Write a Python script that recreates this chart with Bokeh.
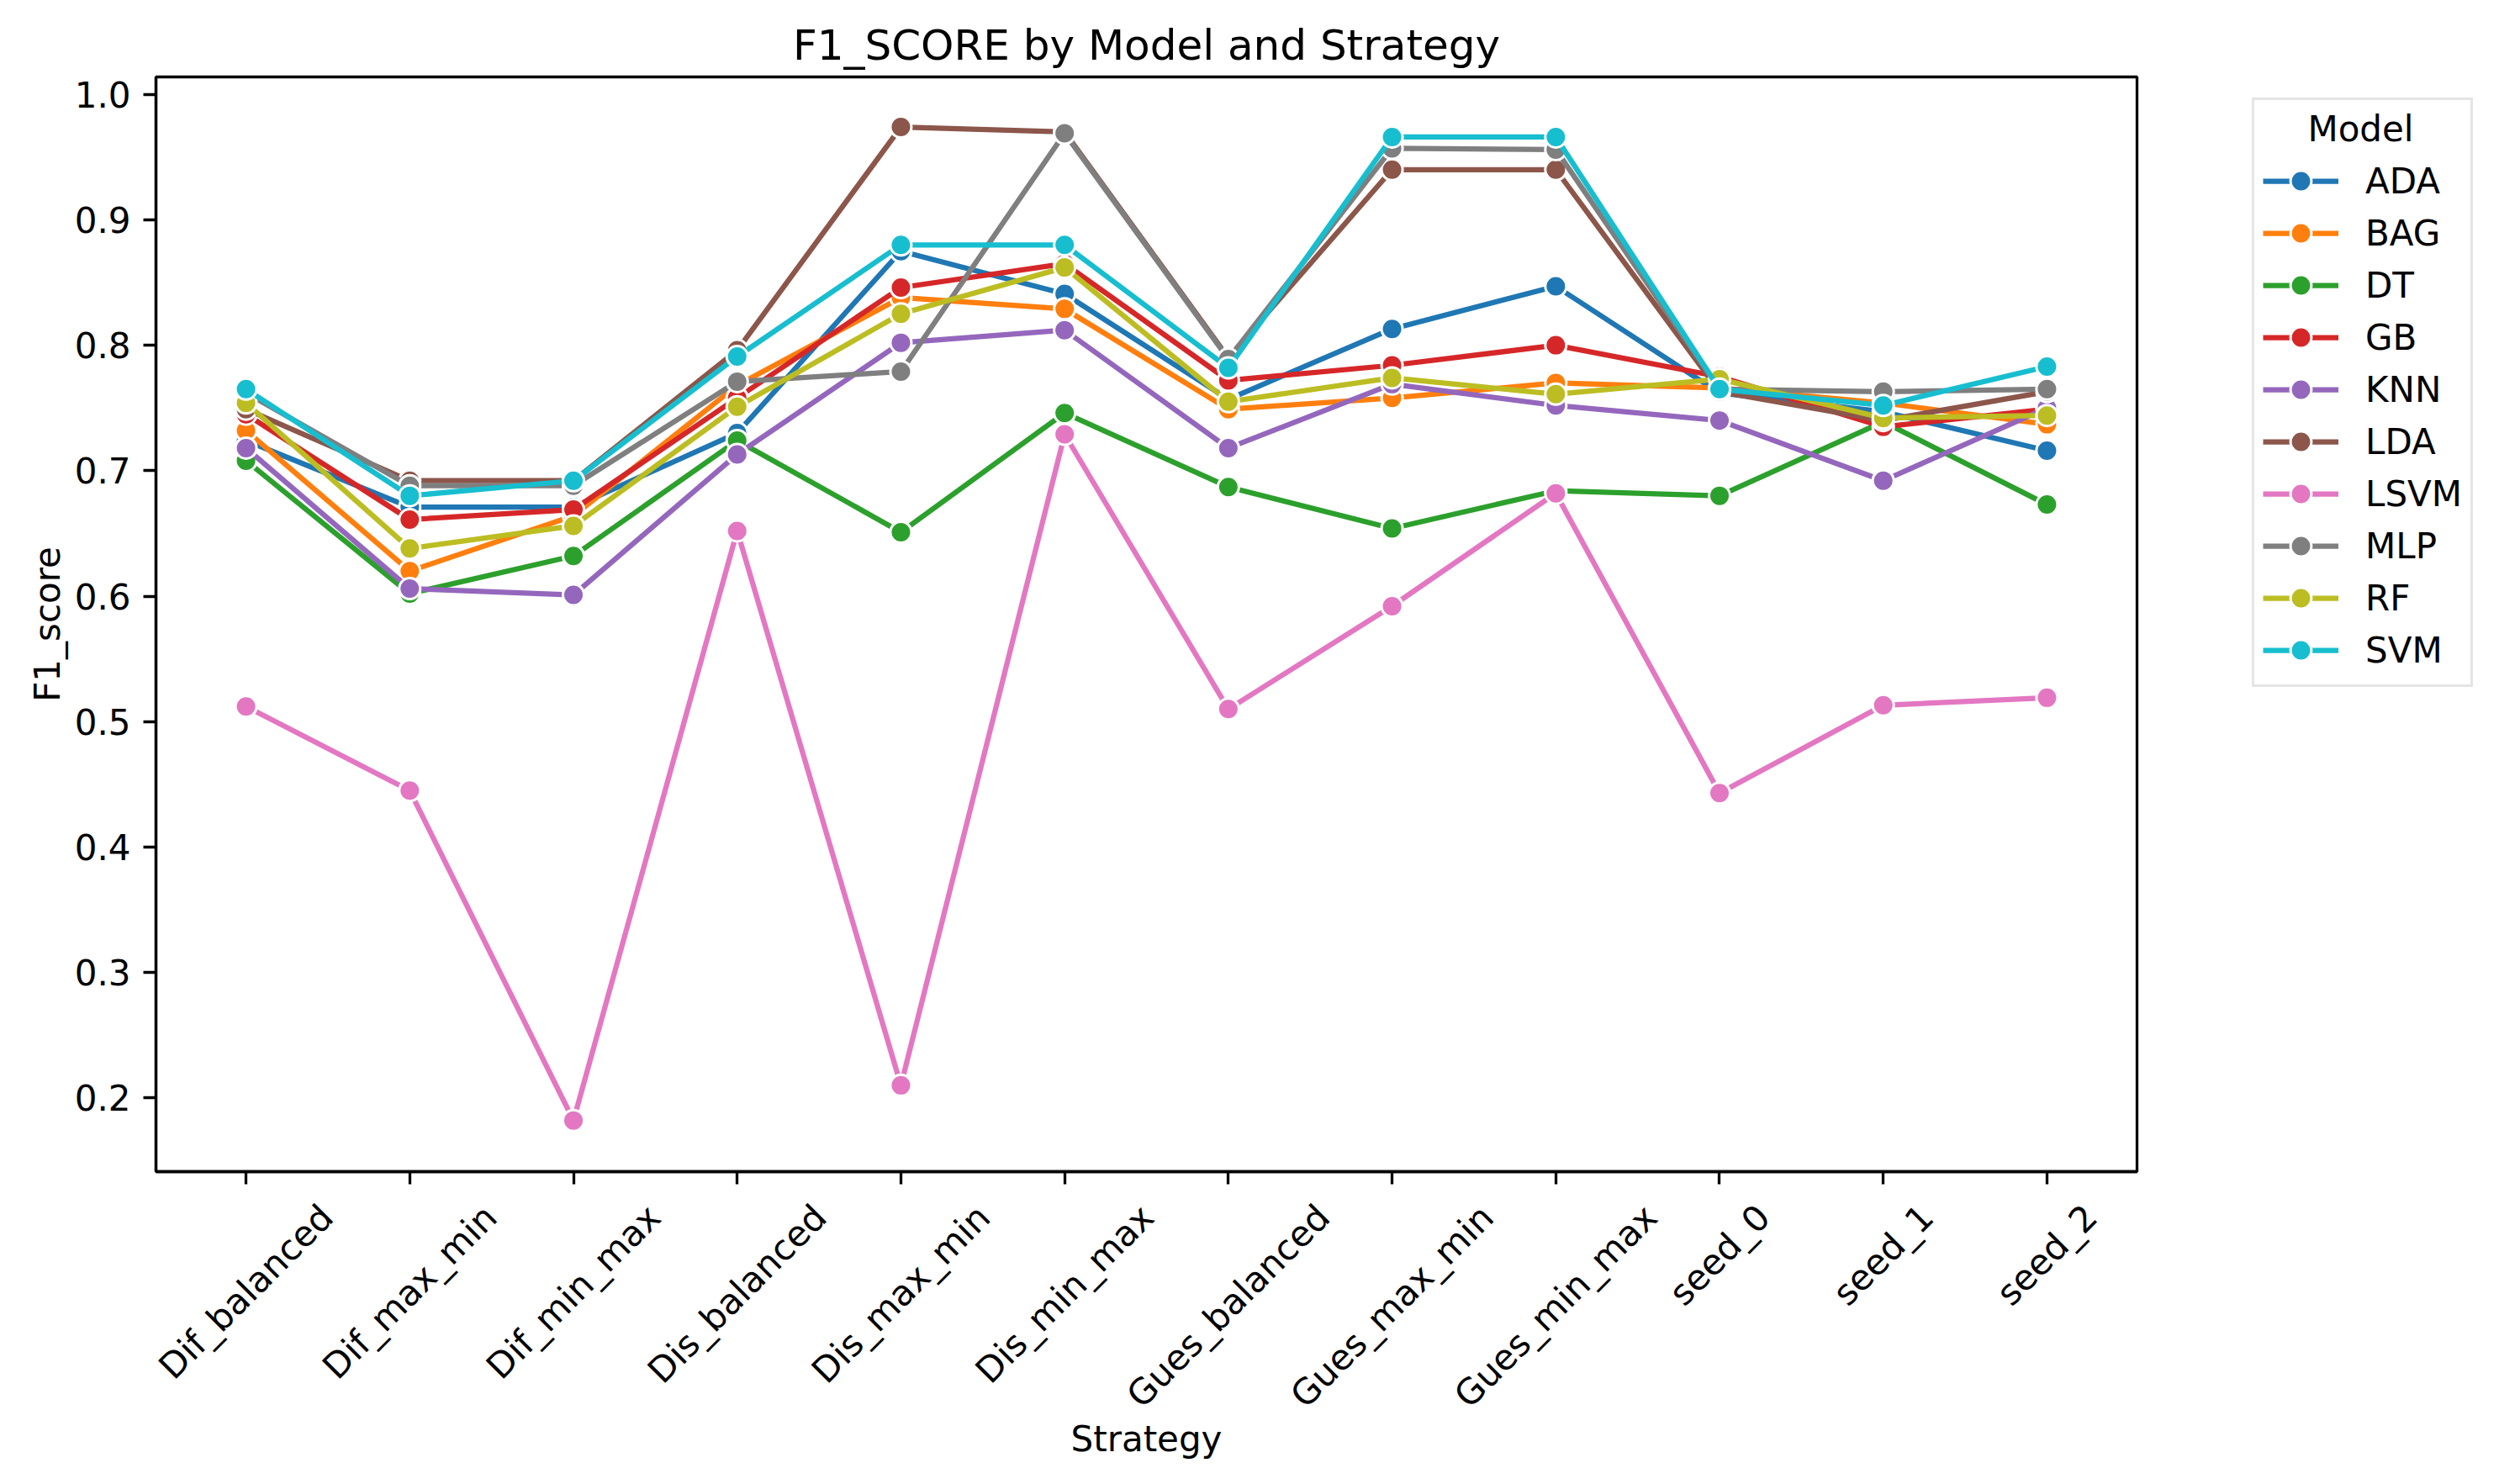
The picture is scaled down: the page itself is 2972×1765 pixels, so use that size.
import math
from bokeh.plotting import figure
from bokeh.layouts import column
from bokeh.models import (Range1d, FixedTicker, PrintfTickFormatter, Legend, LegendItem)
from bokeh.core.properties import value
from bokeh.embed import file_html
from bokeh.resources import INLINE

# ---------------- data ----------------
strategies = ["Dif_balanced", "Dif_max_min", "Dif_min_max", "Dis_balanced", "Dis_max_min",
              "Dis_min_max", "Gues_balanced", "Gues_max_min", "Gues_min_max",
              "seed_0", "seed_1", "seed_2"]
models = ["ADA", "BAG", "DT", "GB", "KNN", "LDA", "LSVM", "MLP", "RF", "SVM"]

ada  = [0.724, 0.671, 0.671, 0.730, 0.875, 0.841, 0.757, 0.813, 0.847, 0.762, 0.747, 0.716]
bag  = [0.732, 0.620, 0.664, 0.768, 0.838, 0.829, 0.749, 0.758, 0.770, 0.766, 0.754, 0.737]
dt   = [0.708, 0.602, 0.632, 0.724, 0.651, 0.746, 0.687, 0.654, 0.684, 0.680, 0.739, 0.673]
gb   = [0.745, 0.661, 0.669, 0.758, 0.846, 0.865, 0.772, 0.784, 0.800, 0.775, 0.735, 0.749]
knn  = [0.718, 0.606, 0.601, 0.713, 0.802, 0.812, 0.718, 0.769, 0.752, 0.740, 0.692, 0.750]
lda  = [0.749, 0.692, 0.692, 0.796, 0.974, 0.970, 0.790, 0.940, 0.940, 0.763, 0.740, 0.763]
lsvm = [0.512, 0.445, 0.182, 0.652, 0.210, 0.729, 0.510, 0.592, 0.682, 0.443, 0.513, 0.519]
mlp  = [0.762, 0.688, 0.688, 0.771, 0.779, 0.969, 0.789, 0.957, 0.956, 0.765, 0.763, 0.765]
rf   = [0.754, 0.638, 0.656, 0.751, 0.825, 0.862, 0.755, 0.774, 0.761, 0.773, 0.742, 0.744]
svm  = [0.765, 0.680, 0.692, 0.791, 0.880, 0.880, 0.782, 0.966, 0.966, 0.765, 0.752, 0.783]

series = [ada, bag, dt, gb, knn, lda, lsvm, mlp, rf, svm]
colors = ["#1f77b4", "#ff7f0e", "#2ca02c", "#d62728", "#9467bd",
          "#8c564b", "#e377c2", "#7f7f7f", "#bcbd22", "#17becf"]
y_ticks = [0.2, 0.3, 0.4, 0.5, 0.6, 0.7, 0.8, 0.9, 1.0]

# ---------------- layout / style ----------------
FONT = "DejaVu Sans"
FS = "42px"
Y0, Y1 = 0.1412, 1.0139
X0, X1 = -0.55, len(strategies) - 1 + 0.55
FW, FH = 2356, 1302
BL, BR, BT, BB = 185, 415, 91, 25
SPINE = 3.3
TICK = 15

p = figure(frame_width=FW, frame_height=FH,
           x_range=Range1d(X0, X1), y_range=Range1d(Y0, Y1),
           output_backend="svg", toolbar_location=None,
           min_border_left=BL, min_border_right=BR,
           min_border_top=BT, min_border_bottom=BB,
           title="F1_SCORE by Model and Strategy",
           background_fill_color="white", border_fill_color="white")

p.title.align = "center"
p.title.text_font = FONT
p.title.text_font_size = "50px"
p.title.text_font_style = "normal"
p.title.text_color = "black"
p.title.standoff = 18

p.xgrid.visible = False
p.ygrid.visible = False
p.outline_line_color = "black"
p.outline_line_width = SPINE

for ax in (p.xaxis[0], p.yaxis[0]):
    ax.axis_line_width = SPINE
    ax.axis_line_color = "black"
    ax.major_tick_line_width = SPINE
    ax.major_tick_line_color = "black"
    ax.major_tick_out = TICK
    ax.major_tick_in = 0
    ax.minor_tick_line_color = None
    ax.major_label_text_font = FONT
    ax.major_label_text_font_size = FS
    ax.major_label_text_color = "black"
    ax.axis_label_text_font = FONT
    ax.axis_label_text_font_size = FS
    ax.axis_label_text_font_style = "normal"
    ax.axis_label_text_color = "black"

p.yaxis.ticker = FixedTicker(ticks=y_ticks)
p.yaxis.formatter = PrintfTickFormatter(format="%.1f")
p.yaxis.major_label_standoff = 15
p.yaxis.axis_label = "F1_score"
p.yaxis.axis_label_standoff = 5

x_idx = list(range(len(strategies)))
p.xaxis.ticker = FixedTicker(ticks=x_idx)
p.xaxis.major_label_overrides = {i: "" for i in x_idx}
p.xaxis.major_label_standoff = 0
p.xaxis.major_label_text_font_size = "1px"

# ---------------- series ----------------
items = []
for name, vals, col in zip(models, series, colors):
    lr = p.line(x_idx, vals, line_color=col, line_width=6.25)
    sr = p.scatter(x_idx, vals, size=25, fill_color=col, line_color="white", line_width=3)
    items.append(LegendItem(label=name, renderers=[lr, sr]))

legend = Legend(items=items, location=(137, 576), margin=0, padding=10,
                title="\u00a0\u00a0\u00a0\u00a0Model", title_standoff=6,
                title_text_font=FONT, title_text_font_size=FS, title_text_font_style="normal",
                title_text_color="black",
                label_text_font=FONT, label_text_font_size=FS, label_text_color="black",
                glyph_width=90, glyph_height=62, label_height=40, spacing=0,
                label_standoff=32,
                border_line_color="#cccccc", border_line_width=3,
                background_fill_color="white", background_fill_alpha=0.8)
p.add_layout(legend, "right")

# ---------------- category labels strip (below the axes) ----------------
H2 = 330
q = figure(frame_width=FW, frame_height=H2,
           x_range=p.x_range, y_range=Range1d(0, H2),
           output_backend="svg", toolbar_location=None,
           min_border_left=BL, min_border_right=BR, min_border_top=0, min_border_bottom=0,
           background_fill_color="white", border_fill_color="white")
q.axis.visible = False
q.xgrid.visible = False
q.ygrid.visible = False
q.outline_line_color = None

CW = {"D": .770, "i": .278, "f": .352, "_": .500, "b": .635, "a": .613, "l": .278,
      "n": .634, "c": .550, "e": .615, "d": .635, "m": .974, "x": .592, "s": .521,
      "G": .775, "u": .634, "t": .392, "0": .636, "1": .636, "2": .636}
fpx = 42.0
lab_y = []
for s in strategies:
    w = sum(CW.get(ch, 0.6) for ch in s) * fpx
    d = TICK + 14.6 + (w + 1.164 * fpx) * math.sqrt(0.5) / 2   # below frame bottom
    lab_y.append(H2 - (d - BB))
q.text(x=x_idx, y=lab_y, text=strategies, angle=math.pi / 4,
       text_align="center", text_baseline="middle",
       text_font=value(FONT), text_font_size=FS, text_color="black")
q.text(x=[(X0 + X1) / 2], y=[H2 - (318 - BB)], text=["Strategy"],
       text_align="center", text_baseline="middle",
       text_font=value(FONT), text_font_size=FS, text_color="black")

open("out.html", "w").write(file_html(column(p, q, spacing=0), INLINE))
